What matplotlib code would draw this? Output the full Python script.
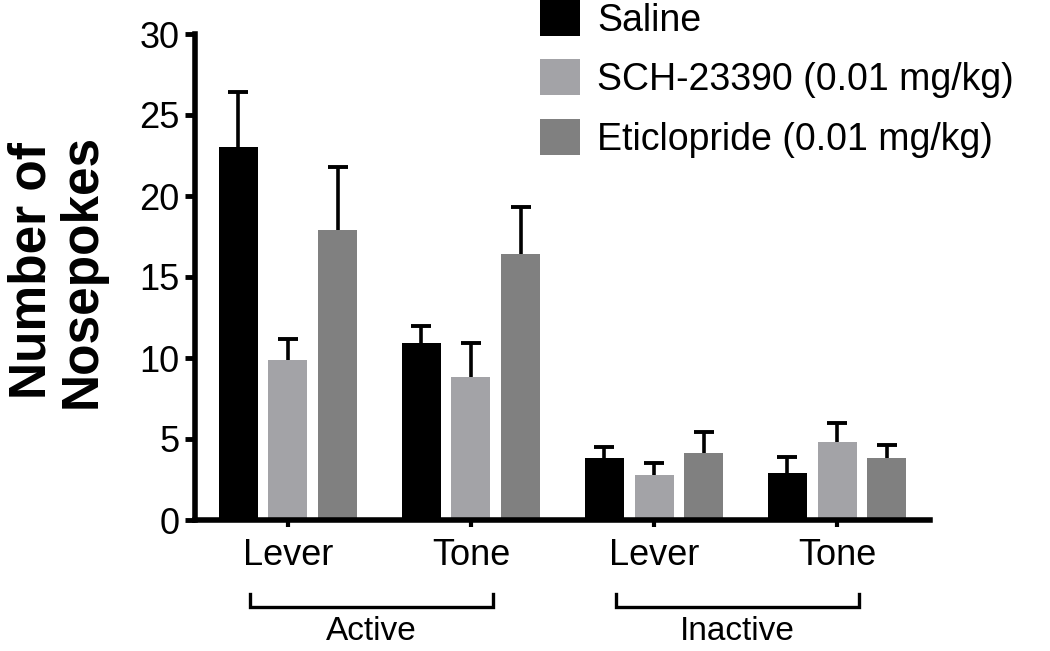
import numpy as np
import matplotlib
matplotlib.use("Agg")
import matplotlib.pyplot as plt

plt.rcParams['font.family'] = ['Liberation Sans', 'DejaVu Sans']

categories = ['Lever', 'Tone', 'Lever', 'Tone']
groups = ['Active', 'Inactive']
series = ['Saline', 'SCH-23390 (0.01 mg/kg)', 'Eticlopride (0.01 mg/kg)']

saline = [23.0, 10.9, 3.8, 2.9]
saline_sem = [3.4, 1.1, 0.7, 1.0]
sch = [9.9, 8.8, 2.8, 4.8]
sch_sem = [1.3, 2.1, 0.7, 1.2]
etic = [17.9, 16.4, 4.15, 3.8]
etic_sem = [3.9, 2.9, 1.3, 0.8]

colors = ['#000000', '#a3a3a7', '#808080']

fig = plt.figure(figsize=(10.5, 6.51), dpi=100)
ax = fig.add_axes([195/1050, 1-520/651, 735/1050, 486/651])

x = np.arange(len(categories))
offsets = [-0.273, 0.0, 0.273]
width = 0.213
handles = []
for vals, sem, col, off, name in zip([saline, sch, etic], [saline_sem, sch_sem, etic_sem],
                                     colors, offsets, series):
    b = ax.bar(x + off, vals, width, color=col, label=name, zorder=2)
    handles.append(b)
    eb = ax.errorbar(x + off, vals, yerr=[np.zeros(len(vals)), sem], fmt='none',
                     ecolor='black', elinewidth=2.6, capsize=7, capthick=2.8, zorder=3)
    eb[1][0].set_visible(False)  # no cap on the bar top

ax.set_xlim(-0.508, 3.508)
ax.set_ylim(0, 30)
ax.set_yticks(np.arange(0, 31, 5))
ax.set_xticks(x)
ax.set_xticklabels(categories, fontsize=26)
ax.tick_params(axis='y', labelsize=26, length=7, width=3.5, pad=4)
ax.tick_params(axis='x', length=5, width=3, pad=8)
for s in ['top', 'right']:
    ax.spines[s].set_visible(False)
for s in ['left', 'bottom']:
    ax.spines[s].set_linewidth(4)

fig.text(57/1050, 1-271/651, 'Number of\nNosepokes', rotation=90, ha='center',
         va='center', fontsize=37, fontweight='bold', multialignment='center',
         linespacing=1.05)

# group brackets below the tick labels
tr = ax.get_xaxis_transform()
for i, g in enumerate(groups):
    x0 = x[2*i] - 0.21
    x1 = x[2*i] + 1.12
    ax.plot([x0, x0, x1, x1], [-0.152, -0.179, -0.179, -0.152], color='black',
            lw=2.4, transform=tr, clip_on=False, solid_joinstyle='miter')
    ax.text((x0 + x1)/2, -0.229, g, transform=tr, ha='center', va='center', fontsize=24)

fig.legend(handles=handles, labels=series, loc='upper left',
           bbox_to_anchor=(540/1050, 1.0), frameon=False, fontsize=27,
           handlelength=1.07, handleheight=1.1, handletextpad=0.45,
           labelspacing=0.55, borderpad=0, borderaxespad=0)

fig.savefig('out.png', dpi=100)
